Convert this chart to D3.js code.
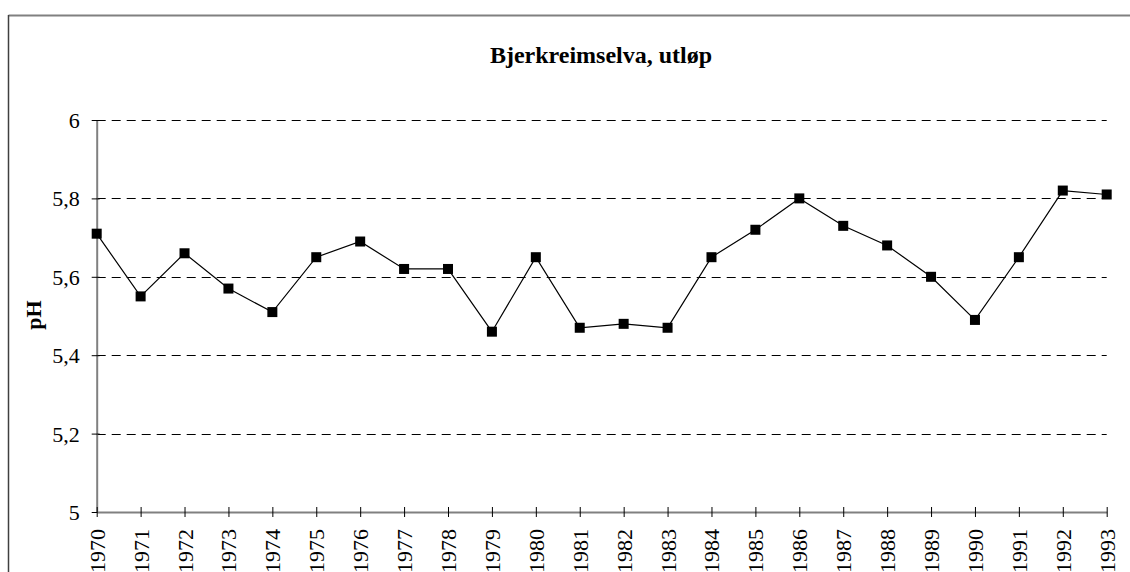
<!DOCTYPE html>
<html>
<head>
<meta charset="utf-8">
<script src="https://cdn.jsdelivr.net/npm/d3@7"></script>
<style>
  html, body { margin: 0; padding: 0; background: #fff; }
  svg { display: block; }
  text { font-family: "Liberation Serif", "Times New Roman", serif; fill: #000; }
</style>
</head>
<body>
<svg id="chart" width="1130" height="572"></svg>
<script>
const years = [1970,1971,1972,1973,1974,1975,1976,1977,1978,1979,1980,1981,1982,1983,1984,1985,1986,1987,1988,1989,1990,1991,1992,1993];
const phValues = [5.71,5.55,5.66,5.57,5.51,5.65,5.69,5.62,5.62,5.46,5.65,5.47,5.48,5.47,5.65,5.72,5.80,5.73,5.68,5.60,5.49,5.65,5.82,5.81];
const yTickValues = [5, 5.2, 5.4, 5.6, 5.8, 6];
const yTickLabels = ["5", "5,2", "5,4", "5,6", "5,8", "6"];
const titleText = "Bjerkreimselva, utløp";
const yAxisTitle = "pH";

const FONT = "Liberation Serif";
const svg = d3.select("#chart");

// outer chart border (extends past the canvas)
svg.append("line").attr("x1", 8.5).attr("y1", 15.5).attr("x2", 1135).attr("y2", 15.5)
  .attr("stroke", "#808080").attr("stroke-width", 2);
svg.append("line").attr("x1", 8.5).attr("y1", 15).attr("x2", 8.5).attr("y2", 580)
  .attr("stroke", "#404040").attr("stroke-width", 1.5);

const x = d3.scaleLinear().domain([1970, 1993]).range([96.7, 1106.7]);
const y = d3.scaleLinear().domain([5, 6]).range([512, 120]);

// gridlines
svg.append("g").selectAll("line")
  .data(yTickValues.filter(v => v > 5))
  .join("line")
  .attr("x1", x(1970)).attr("x2", x(1993))
  .attr("y1", d => Math.round(y(d)) + 0.5).attr("y2", d => Math.round(y(d)) + 0.5)
  .attr("stroke", "#000").attr("stroke-width", 1)
  .attr("stroke-dasharray", "9,6");

// y axis
const yAxis = d3.axisLeft(y)
  .tickValues(yTickValues)
  .tickFormat((d, i) => yTickLabels[i])
  .tickSizeInner(5).tickSizeOuter(0).tickPadding(12);
const gy = svg.append("g").attr("transform", `translate(${x(1970)},0)`).call(yAxis)
  .attr("font-family", FONT).attr("font-size", 22);
gy.select(".domain").attr("stroke", "#808080").attr("stroke-width", 2);
gy.selectAll(".tick line").attr("stroke", "#000").attr("x2", -5).attr("x1", 3);
gy.selectAll(".tick text")
  .attr("font-family", FONT).attr("font-size", 22)
  .attr("fill", "#000").attr("dy", "0.34em");

// x axis
const xAxis = d3.axisBottom(x)
  .tickValues(years)
  .tickFormat(d => String(d))
  .tickSizeInner(5).tickSizeOuter(0);
const gx = svg.append("g").attr("transform", `translate(0,${y(5)})`).call(xAxis)
  .attr("font-family", FONT).attr("font-size", 22);
gx.select(".domain").attr("stroke", "#808080").attr("stroke-width", 2);
gx.selectAll(".tick line").attr("stroke", "#000").attr("y1", -5).attr("y2", 5);
gx.selectAll(".tick text")
  .attr("font-family", FONT).attr("font-size", 22).attr("fill", "#000")
  .attr("text-anchor", "end")
  .attr("transform", "rotate(-90)")
  .attr("x", -17).attr("y", 0).attr("dy", "0.34em");

// line
const line = d3.line().x((d, i) => x(years[i])).y(d => y(d));
svg.append("path").datum(phValues)
  .attr("d", line)
  .attr("fill", "none").attr("stroke", "#000").attr("stroke-width", 1.2);

// markers
svg.append("g").selectAll("rect")
  .data(phValues)
  .join("rect")
  .attr("x", (d, i) => x(years[i]) - 5)
  .attr("y", d => y(d) - 5)
  .attr("width", 10).attr("height", 10)
  .attr("fill", "#000");

// title
svg.append("text")
  .attr("x", 601).attr("y", 63)
  .attr("text-anchor", "middle")
  .attr("font-family", FONT)
  .attr("font-size", 24).attr("font-weight", "bold")
  .text(titleText);

// y axis title
svg.append("text")
  .attr("transform", "translate(33,315) rotate(-90)")
  .attr("text-anchor", "middle").attr("dy", "0.35em")
  .attr("font-family", FONT)
  .attr("font-size", 22).attr("font-weight", "bold")
  .text(yAxisTitle);
</script>
</body>
</html>
